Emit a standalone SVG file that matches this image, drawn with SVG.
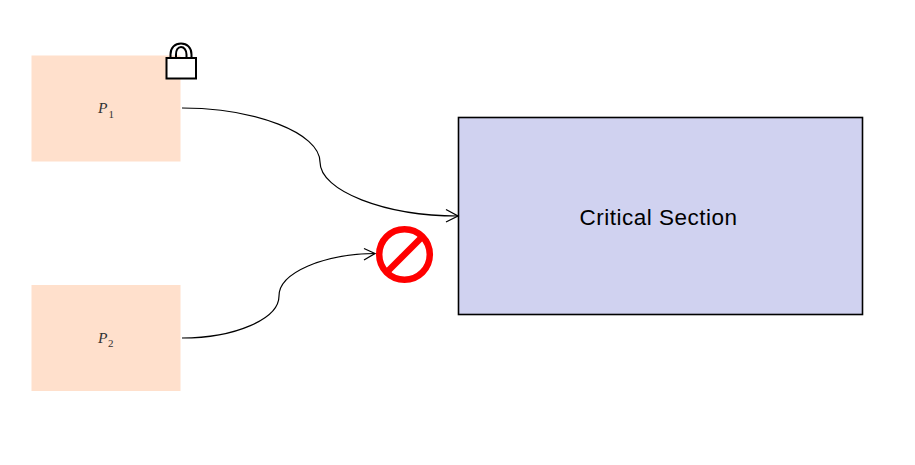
<svg xmlns="http://www.w3.org/2000/svg" width="915" height="465" viewBox="0 0 915 465">
<style>
.proc{fill:#ffe0cc}
.cs{fill:#d0d2f0;stroke:#000;stroke-width:1.6}
.sub{font-family:"Liberation Serif",serif;fill:#333}
.edge{fill:none;stroke:#000;stroke-width:1.2}
.head{fill:none;stroke:#000;stroke-width:1.3}
.lock{fill:none;stroke:#000;stroke-width:2}
</style>
<rect width="915" height="465" fill="#fff"/>
<g id="p1">
<rect class="proc" x="31.500" y="55.500" width="149" height="106"/>
<text class="sub" x="98" y="113" font-size="15.500" font-style="italic">P</text>
<text class="sub" x="108.500" y="118" font-size="11">1</text>
</g>
<g id="p2">
<rect class="proc" x="31.500" y="285" width="149" height="106"/>
<text class="sub" x="98" y="342.500" font-size="15.500" font-style="italic">P</text>
<text class="sub" x="108" y="347" font-size="11">2</text>
</g>
<g id="critical-section">
<rect class="cs" x="458.500" y="117.500" width="404" height="197"/>
<text x="658.500" y="225" text-anchor="middle" font-family="Liberation Sans,Arial,sans-serif" font-size="22.500" letter-spacing="0.500" fill="#000">Critical Section</text>
</g>
<g id="lock">
<path class="lock" d="M170.500 58V54.500C170.500 47.500 175 43.500 181 43.500C187 43.500 191.500 47.500 191.500 54.500V58"/>
<path class="lock" d="M176 58V54.500C176 50 178 47 181 47C184 47 186.500 50 186.500 54.500V58"/>
<rect x="166.500" y="58" width="29.500" height="20.500" fill="#fff" stroke="#000" stroke-width="2"/>
</g>
<g id="no-entry">
<circle cx="404.500" cy="254.500" r="25.300" fill="#fff" stroke="#f00" stroke-width="6.500"/>
<line x1="387" y1="272" x2="422" y2="237" stroke="#f00" stroke-width="6.500"/>
</g>
<g id="connectors">
<path class="edge" d="M182 108C255 108 320 133 320 162C320 191 385 216 458 216"/>
<path class="head" d="M446 209.500L458 216L446 222"/>
<path class="edge" d="M182 338C235 338 279 319 279 296C279 273 323 254 375 253.500"/>
<path class="head" d="M364 248.500L375 253.500L364 260"/>
</g>
</svg>
